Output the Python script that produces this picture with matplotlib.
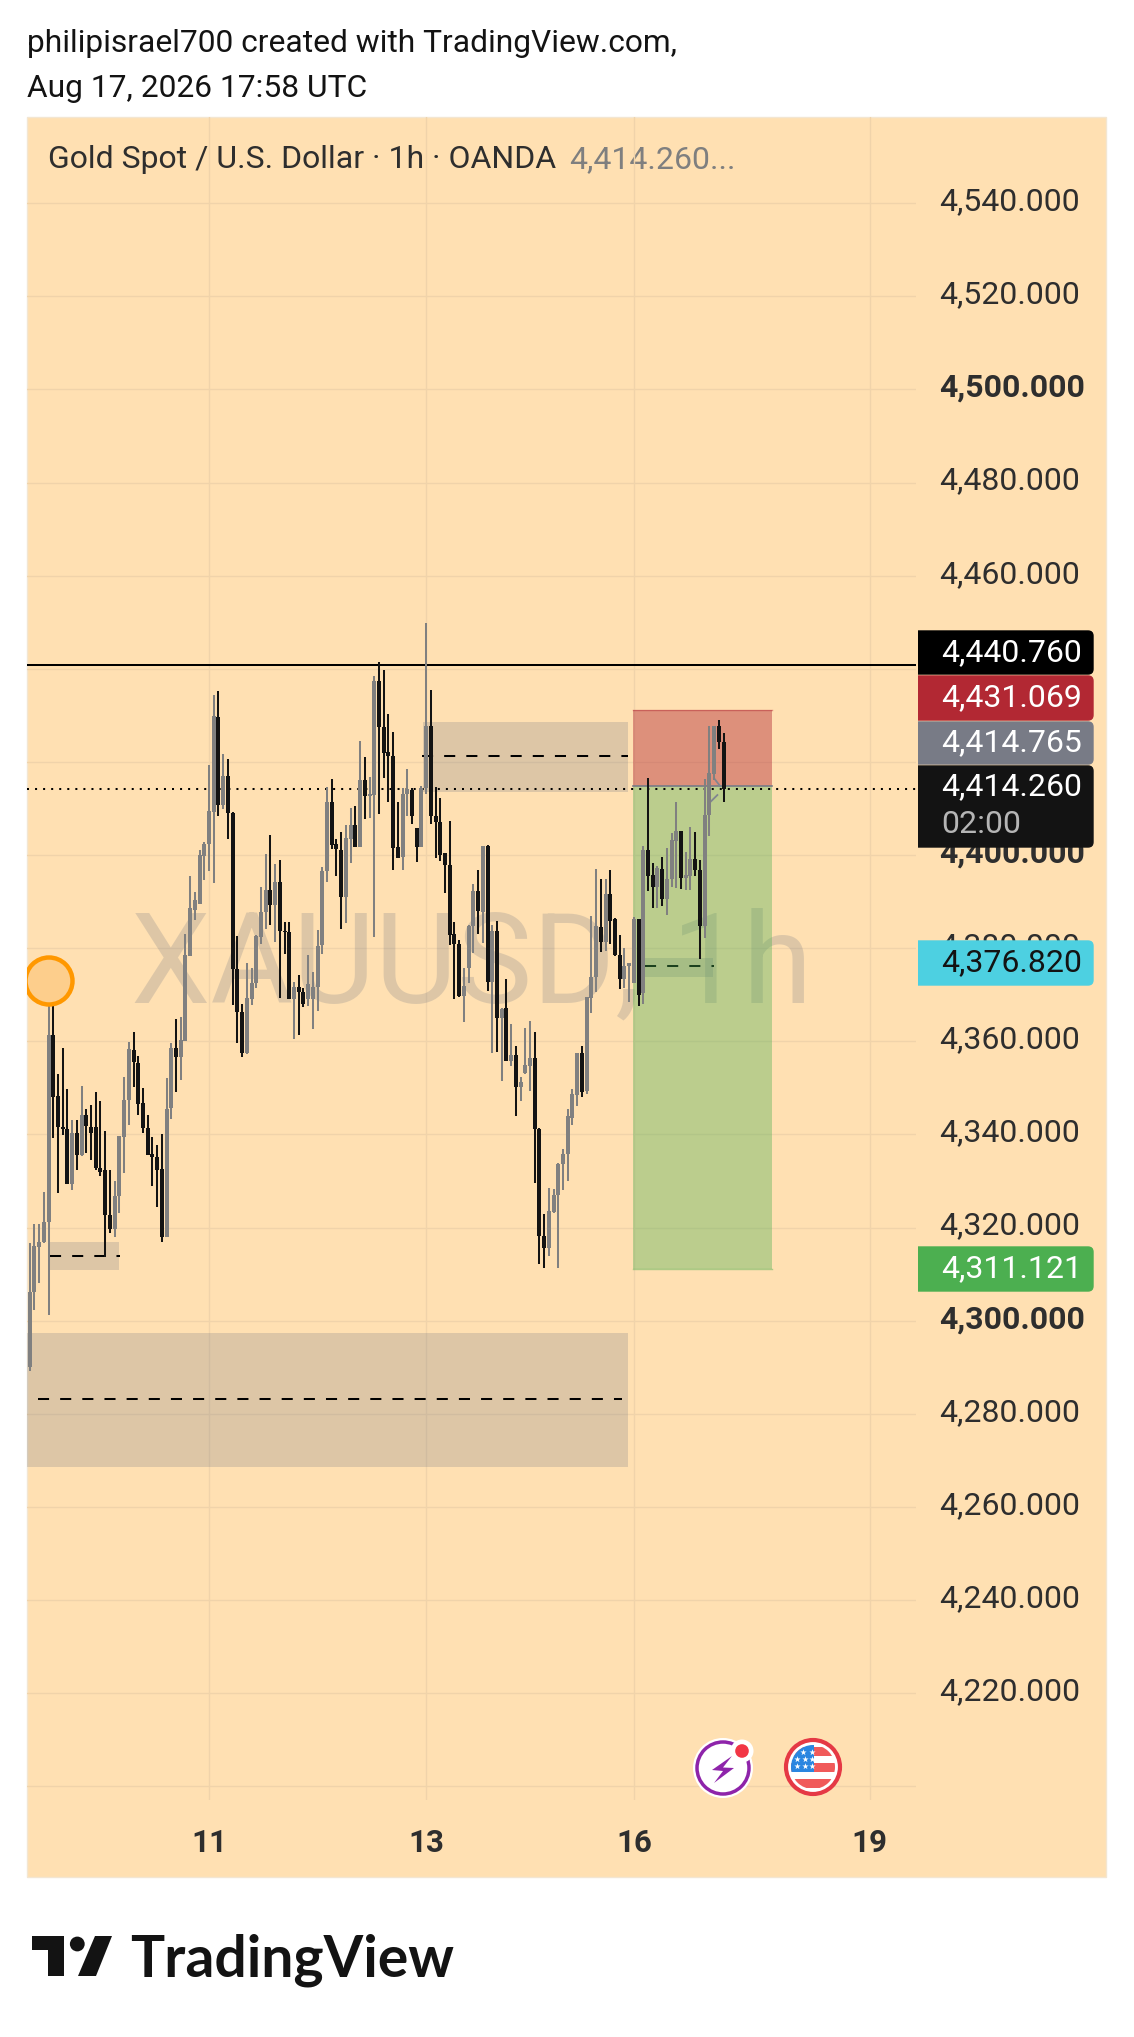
import matplotlib
matplotlib.use("Agg")
import matplotlib.pyplot as plt
from matplotlib.patches import Rectangle, Circle, Polygon, FancyBboxPatch
from matplotlib.transforms import ScaledTranslation

W, H = 1134, 2037
plt.rcParams['font.family'] = ['Roboto', 'DejaVu Sans']

# ---------- data (XAUUSD 1h candles) ----------
direction = ("GGGGGBBBBG" "BGBBBBBBGG" "GGBBBBBBBG" "GBGGGGGGGG" "BGBBBBGGGG"
             "GBGBBBGBBG" "GGGGBBBGGB" "GBGGBBBBBG" "GBBGGBBBBB" "BBGGGBGBGB"
             "GBGBGGGBBB" "GGGGGGGBGG" "GBGBBBGGGB" "GBBGBGGGBG" "GBBGGGBB")
body_top = [4306.2,4316.1,4316.9,4321.2,4361.4,4361.4,4348.3,4341.7,4341.1,4340.3,
            4340.3,4344.1,4344.1,4341.6,4341.6,4332.9,4332.4,4322.6,4326.8,4339.6,
            4347.4,4358.3,4358.1,4355.3,4346.7,4341.3,4335.8,4335.1,4332.5,4345.4,
            4358.6,4358.6,4360.3,4378.6,4388.6,4390.4,4400.0,4402.4,4409.5,4429.9,
            4429.7,4416.9,4416.9,4409.1,4375.5,4366.2,4369.3,4372.5,4382.6,4387.7,
            4392.5,4392.5,4394.2,4394.2,4383.8,4383.4,4371.6,4371.6,4370.7,4372.3,
            4371.6,4380.5,4396.6,4411.4,4411.4,4402.3,4401.1,4403.6,4406.5,4406.5,
            4416.1,4416.1,4413.1,4437.4,4437.4,4427.5,4422.2,4421.2,4401.8,4413.1,
            4414.1,4414.0,4405.8,4414.4,4427.7,4427.7,4408.4,4407.2,4400.4,4397.8,
            4383.0,4380.9,4371.9,4384.7,4392.3,4392.3,4402.0,4402.0,4383.6,4383.6,
            4366.9,4367.1,4357.1,4357.1,4351.3,4354.9,4356.4,4356.4,4341.2,4318.2,
            4323.6,4326.9,4333.7,4335.8,4343.9,4348.6,4357.4,4357.4,4369.5,4373.8,
            4384.7,4384.5,4391.6,4391.6,4386.2,4378.6,4376.1,4376.8,4386.2,4386.2,
            4401.1,4401.1,4395.7,4397.2,4397.0,4394.8,4403.3,4405.2,4405.2,4395.7,
            4399.1,4399.1,4396.8,4408.6,4417.6,4427.8,4427.7,4424.2]
body_bottom = [4290.0,4306.1,4315.9,4316.9,4321.2,4348.1,4341.5,4341.1,4329.3,4329.3,
               4335.5,4335.5,4341.9,4340.3,4332.9,4332.0,4322.6,4319.7,4319.7,4326.7,
               4339.4,4347.4,4355.5,4346.6,4341.3,4335.6,4335.1,4332.4,4317.9,4317.9,
               4345.6,4356.7,4356.7,4360.1,4378.4,4388.2,4389.5,4399.8,4402.3,4409.3,
               4410.8,4410.8,4409.0,4375.5,4366.2,4357.6,4357.6,4369.2,4372.5,4382.5,
               4387.7,4389.3,4389.3,4383.8,4383.4,4369.0,4369.2,4370.7,4368.0,4369.2,
               4369.2,4371.6,4380.6,4396.5,4402.2,4401.3,4390.9,4390.9,4403.5,4401.8,
               4401.8,4412.7,4412.7,4412.9,4427.5,4422.0,4421.2,4401.6,4399.3,4399.5,
               4413.1,4408.4,4401.8,4401.8,4414.4,4408.4,4407.2,4400.0,4397.8,4382.9,
               4380.9,4369.8,4369.8,4375.8,4384.7,4387.9,4387.7,4372.8,4372.8,4365.1,
               4365.1,4355.8,4355.8,4350.1,4350.1,4353.2,4354.8,4341.1,4318.1,4315.7,
               4315.7,4323.4,4326.9,4333.6,4335.8,4343.6,4348.5,4349.1,4349.4,4369.3,
               4373.8,4381.4,4381.4,4385.9,4378.6,4373.4,4373.4,4376.1,4372.5,4370.0,
               4370.3,4395.5,4393.2,4393.2,4390.6,4390.6,4394.8,4403.1,4395.0,4395.0,
               4395.6,4396.7,4384.8,4384.8,4408.6,4417.4,4424.2,4414.26]
wick_high = [4316.6,4320.8,4320.8,4327.7,4371.9,4368.0,4353.0,4358.5,4349.7,4343.1,
             4343.1,4350.4,4345.4,4346.4,4349.1,4347.1,4340.8,4332.4,4330.0,4339.7,
             4352.3,4359.9,4362.0,4356.9,4349.9,4344.1,4339.5,4337.7,4340.1,4352.1,
             4359.6,4364.7,4365.2,4383.0,4395.5,4392.0,4401.0,4402.9,4419.4,4434.4,
             4435.3,4421.7,4420.6,4409.3,4382.6,4368.0,4376.8,4375.7,4382.8,4393.1,
             4400.3,4404.3,4398.0,4399.0,4385.7,4385.7,4372.7,4374.2,4371.4,4378.6,
             4374.8,4383.9,4397.4,4414.6,4416.3,4403.5,4404.9,4406.5,4410.1,4410.6,
             4424.5,4421.0,4416.7,4438.5,4441.4,4439.8,4430.2,4426.5,4411.5,4414.5,
             4418.4,4414.5,4405.8,4414.9,4449.8,4435.5,4414.6,4412.2,4400.4,4407.3,
             4385.6,4381.8,4375.7,4385.0,4393.7,4396.8,4402.0,4402.2,4385.0,4385.9,
             4367.1,4373.4,4363.7,4359.0,4352.3,4362.8,4364.4,4362.0,4341.3,4322.9,
             4328.5,4328.2,4333.8,4336.9,4345.5,4349.7,4357.6,4358.9,4369.5,4386.9,
             4397.0,4394.9,4394.9,4396.7,4386.4,4382.9,4380.0,4376.9,4386.8,4386.2,
             4402.0,4416.6,4398.3,4397.7,4399.5,4401.5,4404.7,4411.4,4405.2,4400.6,
             4406.0,4404.9,4399.0,4416.4,4427.7,4427.8,4429.0,4426.2]
wick_low = [4289.1,4302.3,4308.2,4316.6,4301.3,4339.2,4327.5,4339.9,4329.3,4328.0,
            4332.3,4335.4,4336.1,4334.5,4332.4,4331.0,4313.6,4318.9,4317.9,4323.2,
            4331.8,4342.1,4350.3,4344.1,4340.4,4335.5,4329.0,4324.4,4316.8,4317.9,
            4343.4,4349.2,4351.8,4360.0,4378.4,4386.1,4389.4,4394.7,4396.5,4394.0,
            4408.3,4409.9,4403.5,4367.7,4359.7,4356.7,4357.2,4367.7,4371.4,4380.9,
            4384.1,4384.9,4381.4,4369.3,4378.7,4369.0,4360.5,4361.4,4367.3,4367.5,
            4362.7,4366.6,4378.7,4394.3,4401.3,4395.6,4384.2,4385.4,4398.3,4401.8,
            4401.7,4407.7,4407.9,4382.5,4408.8,4416.6,4411.4,4396.7,4399.3,4396.7,
            4408.4,4406.7,4398.6,4401.8,4413.1,4406.6,4399.3,4398.8,4391.8,4380.7,
            4369.2,4369.6,4364.2,4372.6,4378.9,4383.1,4381.1,4370.9,4357.6,4357.8,
            4351.4,4355.7,4354.8,4343.9,4347.1,4353.0,4349.4,4329.5,4312.2,4311.4,
            4314.0,4323.1,4311.3,4328.1,4329.9,4342.1,4346.1,4348.1,4348.7,4366.0,
            4370.5,4379.1,4379.3,4380.9,4378.4,4371.2,4371.4,4368.5,4372.5,4367.5,
            4368.0,4392.2,4388.6,4388.7,4389.1,4387.2,4393.1,4392.9,4392.7,4392.5,
            4392.5,4395.6,4377.6,4382.1,4404.0,4416.1,4422.8,4411.3]

y_ticks = [4200,4220,4240,4260,4280,4300,4320,4340,4360,4380,4400,4420,4440,4460,4480,4500,4520,4540]
y_labels = ["","4,220.000","4,240.000","4,260.000","4,280.000","4,300.000","4,320.000","4,340.000",
            "4,360.000","4,380.000","4,400.000","","","4,460.000","4,480.000","4,500.000","4,520.000","4,540.000"]
bold_ticks = {"4,300.000","4,400.000","4,500.000"}
x_tick_bars = [38,84,128,178]
x_tick_labels = ["11","13","16","19"]

resistance = 4440.76
last_price = 4414.26
stop = 4431.069
entry = 4414.765
target = 4311.121
# zones: first bar, last bar, top, bottom, midline, midline start, midline end
zones = [(83.4,126.8,4428.6,4413.6,4421.2,83.1,126.8),
         (4.3,18.9,4316.9,4310.9,4313.9,4.3,19.1),
         (-1,126.8,4297.4,4268.5,4283.2,1.8,125.5),
         (130.4,144.8,4377.8,4373.9,4376.1,130.4,145.0)]
box_left, box_right = 127.8, 157.2

INK = '#131313'; GREY = '#808080'; BG = '#FFE0B2'; GRID = '#F0D3AA'
ZONE = '#787B86'

fig = plt.figure(figsize=(W/100, H/100), dpi=100, facecolor='white')

def rect(l, t, r, b):
    return [l/W, 1-b/H, (r-l)/W, (b-t)/H]

# background layer in pixel coordinates
bg = fig.add_axes([0,0,1,1], zorder=0)
bg.set_xlim(0,W); bg.set_ylim(H,0); bg.axis('off')
bg.add_patch(Rectangle((27,117),1079,1760,fc=BG,ec='#F3E6D2',lw=1))
bg.text(27,52,"philipisrael700 created with TradingView.com,",fontsize=22.9,color='#131313',va='baseline')
bg.text(27,97,"Aug 17, 2026 17:58 UTC",fontsize=22.9,color='#131313',va='baseline')
bg.text(48,168.5,"Gold Spot / U.S. Dollar \u00b7 1h \u00b7 OANDA",fontsize=23,color='#2E2E2E',va='baseline')
bg.text(569,168.5,"4,414.260...",fontsize=23,color='#7F7F7F',va='baseline')

# price chart
ax = fig.add_axes(rect(27,117,916,1800), zorder=2)
ax.patch.set_alpha(0)
px_per_bar = 4.72; px0 = 29.67
ax.set_xlim((27-px0)/px_per_bar, (916-px0)/px_per_bar)
ppu = 4.656; y4300 = 1320.7
ax.set_ylim(4300+(y4300-1800)/ppu, 4300+(y4300-117)/ppu)
for s in ax.spines.values(): s.set_visible(False)
ax.yaxis.tick_right()
ax.set_yticks(y_ticks); ax.set_yticklabels(y_labels)
ax.set_xticks(x_tick_bars); ax.set_xticklabels(x_tick_labels)
ax.tick_params(axis='y',length=0,pad=16.5,labelsize=23,labelcolor='#2E2E2E')
ax.tick_params(axis='x',length=0,pad=20,labelsize=22.5,labelcolor='#2E2E2E')
up = ScaledTranslation(0, 0.045, fig.dpi_scale_trans)
for t in ax.get_yticklabels():
    t.set_transform(t.get_transform() + up)
    if t.get_text() in bold_ticks: t.set_fontweight('bold')
for t in ax.get_xticklabels(): t.set_fontweight('bold')
ax.grid(True,color=GRID,lw=1.0,zorder=0)
ax.set_axisbelow(True)

ax.text(21.45,4368.4,"XAUUSD, 1h",fontsize=91.2,color=ZONE,alpha=.25,va='baseline',ha='left',zorder=1)

for a,b,top,bot,mid,ms,me in zones:
    ax.add_patch(Rectangle((a,bot),b-a,top-bot,fc=ZONE,alpha=.25,ec='none',zorder=2))
    ax.plot([ms,me],[mid,mid],color='#000000',lw=1.45,dashes=(5.5,5.5),zorder=2.1)

ax.add_patch(Rectangle((box_left,entry),box_right-box_left,stop-entry,fc='#B22833',alpha=.43,ec='none',zorder=3))
ax.add_patch(Rectangle((box_left,target),box_right-box_left,entry-target,fc='#4CAF50',alpha=.375,ec='none',zorder=3))
ax.plot([box_left,box_right],[stop,stop],color='#B22833',alpha=.45,lw=1,zorder=3.1)
ax.plot([box_left,box_right],[target,target],color='#4CAF50',alpha=.45,lw=1,zorder=3.1)
ax.plot([box_left,box_right],[entry,entry],color='#787B86',lw=1.2,zorder=3.1)

ax.axhline(resistance,color='#000000',lw=1.45,zorder=3.2)
ax.axhline(last_price,color='#000000',lw=1.45,dashes=(1,3),zorder=3.2)

# entry arrow marks
ax.plot([145.0,146.3],[4416.5,4414.8],color='#808590',lw=1.3,zorder=3.3)
ax.plot([144.3,145.7],[4411.5,4412.9],color='#808590',lw=1.3,zorder=3.3)

for i,d in enumerate(direction):
    c = GREY if d=='G' else INK
    z = 4 + i*0.001
    ax.vlines(i,wick_low[i],wick_high[i],color=c,lw=1.45,zorder=z)
    ax.bar(i,body_top[i]-body_bottom[i],bottom=body_bottom[i],width=.85,color=c,lw=0,zorder=z)

# overlay: labels, icons, logo (pixel coordinates)
ov = fig.add_axes([0,0,1,1], zorder=3)
ov.set_xlim(0,W); ov.set_ylim(H,0); ov.axis('off'); ov.patch.set_alpha(0)

panel_clip = Rectangle((27,117),889,1683,transform=ov.transData)
c = Circle((49,981),23.5,fc='#FDCE8C',ec='#FF9800',lw=3.2,zorder=5)
ov.add_patch(c); c.set_clip_path(panel_clip)

def badge(t,b,fc):
    p = FancyBboxPatch((906,t+1),187,b-t-2,boxstyle="round,pad=0,rounding_size=5",fc=fc,ec=fc,lw=1,zorder=5)
    ov.add_patch(p)
    p.set_clip_path(Rectangle((918,0),300,H,transform=ov.transData))
def blabel(y,s,col='white'):
    ov.text(941,y,s,fontsize=23,color=col,va='baseline',zorder=6)

badge(630,675,'#000000'); blabel(661.5,"4,440.760")
badge(675,721,'#B22833'); blabel(706.5,"4,431.069")
badge(721,765,'#787B86'); blabel(751.5,"4,414.765")
badge(765,848,'#131313'); blabel(795,"4,414.260"); blabel(833,"02:00",'#B5B5B5')
badge(940,986,'#4DD0E1'); blabel(971,"4,376.820",'#131313')
badge(1246,1292,'#4CAF50'); blabel(1277,"4,311.121")

# lightning icon
ov.add_patch(Circle((723,1768),30,fc='white',ec='none',zorder=5))
ov.add_patch(Circle((723,1768),26,fc='white',ec='#8E24AA',lw=2.5,zorder=5.1))
ov.add_patch(Polygon([(732,1756),(712,1770),(723,1771),(714,1783),(734,1768),(723,1767.5)],fc='#8E24AA',ec='none',zorder=5.2))
ov.add_patch(Circle((742,1751),11.5,fc='white',ec='none',zorder=5.3))
ov.add_patch(Circle((742,1751),6.8,fc='#F23645',ec='none',zorder=5.4))

# flag icon
ov.add_patch(Circle((813,1767),27,fc='white',ec='#E53945',lw=3,zorder=5))
clip = Circle((813,1767),22,transform=ov.transData)
for yy,h in [(1747,9),(1763,9),(1779,9)]:
    r = Rectangle((790,yy),46,h,fc='#F05A5A',ec='none',zorder=5.1); ov.add_patch(r); r.set_clip_path(clip)
r = Rectangle((788,1745),26,27,fc='#2A86E0',ec='none',zorder=5.2); ov.add_patch(r); r.set_clip_path(clip)
ov.scatter([803,812,797,805,812,797,805,812],[1752,1752,1759,1759,1759,1766,1766,1766],marker='*',s=22,color='white',lw=0,zorder=5.3)

# logo
ov.add_patch(Polygon([(32,1936),(64,1936),(64,1976),(48,1976),(48,1950),(32,1950)],fc='#131313',ec='none',zorder=5))
ov.add_patch(Circle((77.3,1944),7.4,fc='#131313',ec='none',zorder=5))
ov.add_patch(Polygon([(95,1936),(112,1936),(96,1976),(78,1976)],fc='#131313',ec='none',zorder=5))
ov.text(130,1976.5,"TradingView",fontsize=41,fontweight='bold',family=['Lato','DejaVu Sans'],color='#131313',va='baseline',zorder=5)

fig.savefig('out.png',dpi=100,facecolor='white')
